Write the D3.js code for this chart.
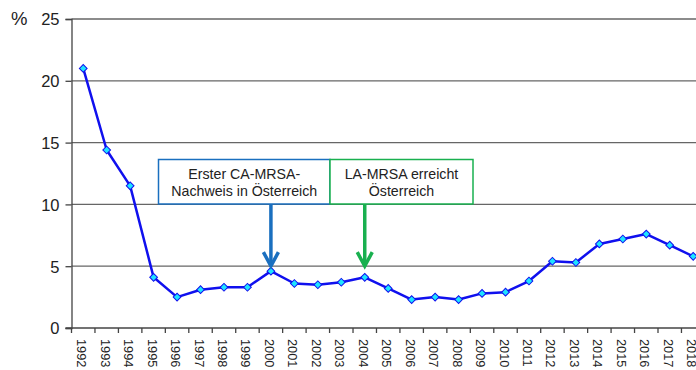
<!DOCTYPE html>
<html><head><meta charset="utf-8">
<script src="https://cdn.jsdelivr.net/npm/d3@7"></script>
<style>body{margin:0;background:#fff;overflow:hidden}svg{display:block;font-family:"Liberation Sans",Arial,sans-serif}</style>
</head><body><svg id="c" width="696" height="370"></svg>
<script>
const years = ["1992","1993","1994","1995","1996","1997","1998","1999","2000","2001","2002","2003","2004","2005","2006","2007","2008","2009","2010","2011","2012","2013","2014","2015","2016","2017","2018"];
const values = [21.0,14.4,11.5,4.1,2.5,3.1,3.3,3.3,4.6,3.6,3.5,3.7,4.1,3.2,2.3,2.5,2.3,2.8,2.9,3.8,5.4,5.3,6.8,7.2,7.6,6.7,5.8];
const yTicks = [0,5,10,15,20,25];
const annotations = [
  {year:"2000", lines:["Erster CA-MRSA-","Nachweis in Österreich"], color:"#1a6fbf"},
  {year:"2004", lines:["LA-MRSA erreicht","Österreich"], color:"#19b04f"}
];

const svg = d3.select("#c");
const mLeft = 71.5, mTop = 19, mBottom = 328;
const bandW = 23.46;
const x = d3.scaleBand().domain(years).range([mLeft, mLeft + bandW*years.length]).paddingInner(0).paddingOuter(0);
const y = d3.scaleLinear().domain([0,25]).range([mBottom, mTop]);

// gridlines
svg.append("g").selectAll("line").data(yTicks.filter(d=>d>0)).join("line")
  .attr("x1", mLeft).attr("x2", 696).attr("y1", d=>y(d)).attr("y2", d=>y(d))
  .attr("stroke","#666").attr("stroke-width",1.3);

// y axis
const ya = svg.append("g").attr("transform",`translate(${mLeft},0)`)
  .call(d3.axisLeft(y).tickValues(yTicks).tickSize(6).tickPadding(6));
ya.select(".domain").attr("stroke","#444").attr("stroke-width",1.3);
ya.selectAll(".tick line").attr("stroke","#444").attr("stroke-width",1.3);
ya.selectAll("text").attr("font-size",16.5).attr("fill","#222").attr("font-family","Liberation Sans, Arial, sans-serif").attr("dy","0.36em");

svg.append("text").attr("x",11).attr("y",25).attr("font-size",18.5).attr("fill","#222").text("%");

// x axis
const xa = svg.append("g").attr("transform",`translate(0,${mBottom})`)
  .call(d3.axisBottom(x).tickSize(0).tickPadding(0));
xa.select(".domain").remove();
svg.append("line").attr("x1",mLeft-6).attr("x2",720).attr("y1",mBottom).attr("y2",mBottom).attr("stroke","#444").attr("stroke-width",1.3);
svg.append("g").selectAll("line").data(d3.range(years.length+1)).join("line")
  .attr("x1",i=>mLeft+i*x.step()).attr("x2",i=>mLeft+i*x.step())
  .attr("y1",mBottom).attr("y2",mBottom+5).attr("stroke","#444").attr("stroke-width",1.3);
xa.selectAll(".tick text")
  .attr("font-size",12.8).attr("fill","#222").attr("font-family","Liberation Sans, Arial, sans-serif")
  .attr("text-anchor","start").attr("dy","0.35em")
  .attr("transform","translate(-1.5,11) rotate(90)");

// line
const cx = d => x(d) + x.bandwidth()/2;
const pts = years.map((yr,i)=>({yr, v:values[i]}));
svg.append("path").datum(pts)
  .attr("d", d3.line().x(d=>cx(d.yr)).y(d=>y(d.v)))
  .attr("fill","none").attr("stroke","#1010ee").attr("stroke-width",2.5).attr("stroke-linejoin","round");
svg.append("g").selectAll("path").data(pts).join("path")
  .attr("d", d3.symbol(d3.symbolSquare, 30))
  .attr("transform", d=>`translate(${cx(d.yr)},${y(d.v)}) rotate(45)`)
  .attr("fill","#1ee4ff").attr("stroke","#1010ee").attr("stroke-width",1);

// annotations
const boxTop = 159.5, boxH = 44.5;
const boxX = [158.5, 330];
const boxW = [171.5, 143];
annotations.forEach((a,i)=>{
  const g = svg.append("g");
  g.append("rect").attr("x",boxX[i]).attr("y",boxTop).attr("width",boxW[i]).attr("height",boxH)
    .attr("fill","#fff").attr("stroke",a.color).attr("stroke-width",1.5);
  a.lines.forEach((t,j)=>{
    g.append("text").attr("x",boxX[i]+boxW[i]/2).attr("y",boxTop+19+j*17)
      .attr("text-anchor","middle").attr("font-size",14.2).attr("fill","#222").text(t);
  });
  const ax = cx(a.year);
  const tipY = y(4.6) - 5;
  g.append("line").attr("x1",ax).attr("x2",ax).attr("y1",boxTop+boxH).attr("y2",tipY-1)
    .attr("stroke",a.color).attr("stroke-width",3.5);
  g.append("path").attr("d",`M${ax-7.5},${tipY-14} L${ax},${tipY} L${ax+7.5},${tipY-14}`)
    .attr("fill","none").attr("stroke",a.color).attr("stroke-width",3.5).attr("stroke-linejoin","miter");
});
</script></body></html>
